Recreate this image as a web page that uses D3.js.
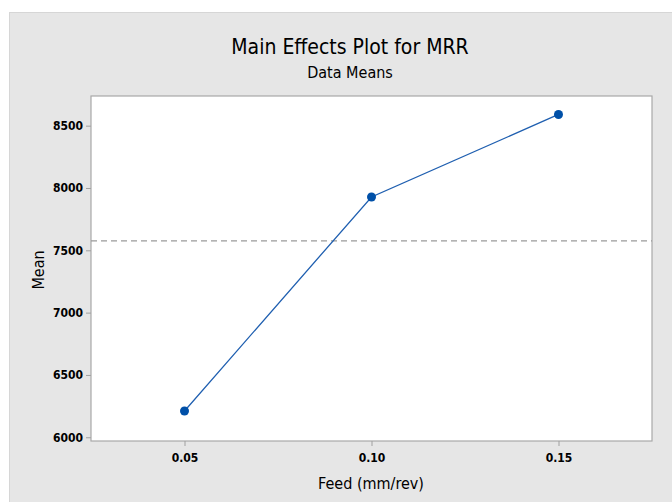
<!DOCTYPE html>
<html><head><meta charset="utf-8">
<script src="https://cdn.jsdelivr.net/npm/d3@7"></script>
<style>
html,body{margin:0;padding:0;background:#fff;}
svg{display:block;}
text{font-family:"Liberation Sans Narrow","DejaVu Sans Condensed","Roboto Condensed",sans-serif;fill:#000;}
</style></head>
<body>
<script>
const feedLevels = [0.05, 0.10, 0.15];
const mrrMeans = [6211, 7928, 8590];
const yTicks = [6000, 6500, 7000, 7500, 8000, 8500];
const xTickLabels = ["0.05", "0.10", "0.15"];
const grandMean = d3.mean(mrrMeans);

const W = 672, H = 502;
const svg = d3.select("body").append("svg").attr("width", W).attr("height", H);

svg.append("rect").attr("x", 9.5).attr("y", 12.5).attr("width", W).attr("height", H)
  .attr("fill", "#e6e6e6").attr("stroke", "#d6d6d6");

const L = 91, R = 652, T = 96, B = 441;
const x = d3.scaleLinear().domain([0.025, 0.175]).range([L, R]);
const y = d3.scaleLinear().domain([5970, 8738]).range([B, T]);

svg.append("rect").attr("x", L).attr("y", T).attr("width", R - L).attr("height", B - T)
  .attr("fill", "#fff").attr("stroke", "#a8a8a8").attr("stroke-width", 1.2);

const xAxis = svg.append("g").attr("transform", `translate(0,${B})`)
  .call(d3.axisBottom(x).tickValues(feedLevels).tickFormat((d, i) => xTickLabels[i]).tickSize(5).tickPadding(7));
const yAxis = svg.append("g").attr("transform", `translate(${L},0)`)
  .call(d3.axisLeft(y).tickValues(yTicks).tickFormat(d3.format("d")).tickSize(5).tickPadding(3));
[xAxis, yAxis].forEach(a => {
  a.select(".domain").remove();
  a.selectAll(".tick line").attr("stroke", "#a0a0a0");
  a.selectAll(".tick text").attr("font-size", 12).attr("font-weight", "bold").attr("fill", "#111")
    .attr("font-family", '"Liberation Sans Narrow","DejaVu Sans Condensed",sans-serif');
});

svg.append("line").attr("x1", L).attr("x2", R).attr("y1", y(grandMean)).attr("y2", y(grandMean))
  .attr("stroke", "#9a9a9a").attr("stroke-width", 1.2).attr("stroke-dasharray", "6,4");

const pts = feedLevels.map((f, i) => [f, mrrMeans[i]]);
svg.append("path").datum(pts)
  .attr("d", d3.line().x(d => x(d[0])).y(d => y(d[1])))
  .attr("fill", "none").attr("stroke", "#1f5fb0").attr("stroke-width", 1.3);
svg.selectAll("circle.pt").data(pts).join("circle")
  .attr("cx", d => x(d[0])).attr("cy", d => y(d[1])).attr("r", 4.5).attr("fill", "#0050a8");

svg.append("text").attr("x", 350).attr("y", 54).attr("text-anchor", "middle")
  .attr("font-size", 21).attr("font-weight", 500).text("Main Effects Plot for MRR");
svg.append("text").attr("x", 350).attr("y", 78).attr("text-anchor", "middle")
  .attr("font-size", 16).attr("font-weight", 500).text("Data Means");
svg.append("text").attr("x", 371).attr("y", 489).attr("text-anchor", "middle")
  .attr("font-size", 16).attr("font-weight", 500).text("Feed (mm/rev)");
svg.append("text").attr("transform", "translate(44,270) rotate(-90)").attr("text-anchor", "middle")
  .attr("font-size", 16).attr("font-weight", 500).text("Mean");
</script>
</body></html>
